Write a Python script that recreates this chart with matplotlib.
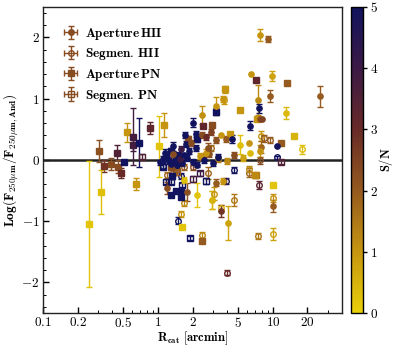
import numpy as np
import matplotlib
matplotlib.use("Agg")
import matplotlib.pyplot as plt
from matplotlib.colors import LinearSegmentedColormap, Normalize
from matplotlib.ticker import FixedLocator, FixedFormatter, MultipleLocator, LogLocator, NullFormatter

plt.rcParams['mathtext.fontset'] = 'cm'

# ---------------- data ----------------
# Aperture HII (filled circles)
ap_hii_r = [7.76, 8.98, 6.48, 9.85, 25.6, 9.36, 7.36, 3.7, 3.17, 13.1, 2.4, 2.02, 7.6, 7.75, 8.1,
            6.36, 6.23, 5.2, 7.87, 10.8, 6.28, 7.76, 3.57, 3.87, 3.17, 4.42,
            1.72, 2.14, 2.43, 2.87, 2.6, 1.58, 1.74, 1.93, 1.86, 2.13,
            1.1, 1.2, 1.25, 1.4, 1.5, 1.35, 1.62, 1.8, 2.0, 2.3, 2.5, 2.8, 3.0, 1.15, 1.45,
            1.05, 1.3, 1.55, 1.7, 2.2, 2.6, 3.3, 4.0, 4.6, 5.5,
            1.2, 1.8, 2.17, 2.97, 3.55, 4.07, 3.7, 3.17, 1.67, 10.0, 2.93, 1.35, 2.7]
ap_hii_y = [2.04, 1.97, 1.40, 1.37, 1.04, 1.04, 0.98, 0.99, 0.88, 0.77, 0.73, 0.61, 0.84, 0.66, 0.66,
            0.56, 0.27, 0.25, 0.21, 0.22, 0.11, 0.15, 0.41, 0.34, 0.33, 0.34,
            0.41, 0.42, 0.41, 0.45, 0.37, 0.17, 0.26, 0.27, 0.14, 0.19,
            0.02, 0.05, -0.02, 0.0, 0.08, 0.10, -0.05, 0.03, -0.03, 0.06, 0.0, 0.10, -0.05, 0.12, -0.08,
            -0.04, -0.06, 0.02, 0.08, -0.08, 0.12, 0.05, -0.02, 0.08, 0.03,
            -0.46, -0.52, -0.57, -0.66, -0.84, -1.03, -0.34, -0.37, -0.33, -0.75, -0.66, 0.22, 0.2]
ap_hii_e = [0.1, 0.05, 0.0, 0.08, 0.17, 0.1, 0.25, 0.05, 0.15, 0.1, 0.15, 0.07, 0.07, 0.0, 0.0,
            0.07, 0.0, 0.15, 0.1, 0.0, 0.0, 0.1, 0.0, 0.05, 0.05, 0.07,
            0.05, 0.05, 0.05, 0.05, 0.05, 0.05, 0.05, 0.05, 0.05, 0.05,
            0.05, 0.05, 0.05, 0.05, 0.05, 0.05, 0.05, 0.05, 0.05, 0.05, 0.05, 0.05, 0.05, 0.05, 0.05,
            0.04, 0.04, 0.04, 0.04, 0.04, 0.06, 0.05, 0.05, 0.05, 0.05,
            0.1, 0.15, 0.2, 0.15, 0.1, 0.27, 0.05, 0.05, 0.05, 0.1, 0.15, 0.08, 0.08]
ap_hii_sn = [1.0, 2.0, 1.0, 0.8, 2.0, 2.0, 1.2, 1.0, 1.0, 0.4, 1.1, 5, 5, 2.3, 2.5,
             5, 1.0, 0.3, 1.8, 5, 0.4, 1.0, 1.0, 2.0, 2.2, 5,
             5, 5, 2.3, 2.5, 3.0, 4.0, 5, 2.3, 5, 5,
             5, 5, 5, 5, 5, 2.3, 5, 5, 5, 1.0, 5, 2.2, 5, 5, 5,
             5, 5, 4.0, 5, 5, 1.0, 5, 1.2, 2.3, 0.8,
             2.3, 2.2, 0.2, 0.3, 2.8, 0.8, 1.0, 2.0, 0.3, 2.0, 0.5, 5, 2.2]

# Segmen. HII (open circles)
sg_hii_r = [1.59, 1.5, 2.43, 4.0, 7.36, 10.0, 10.0, 7.55, 6.15, 4.56, 3.1, 3.55, 2.74, 1.69, 1.34,
            1.21, 1.11, 1.69, 1.58, 3.74, 7.87, 8.4, 9.5, 18.1, 10.8, 7.76, 6.15, 4.55, 3.9,
            2.4, 2.0, 1.45, 3.3, 2.9]
sg_hii_y = [-0.88, -0.99, -1.23, -1.84, -1.24, -1.21, -0.62, -0.41, -0.21, -0.65, -0.55, -0.79, -0.21, -0.70, -0.21,
            -0.24, -0.10, -0.11, -0.27, 0.97, 0.39, 0.35, 0.33, 0.17, 0.04, -0.01, -0.15, -0.16, -0.34,
            0.05, -0.12, -0.15, 0.02, 0.20]
sg_hii_e = [0.05, 0.05, 0.05, 0.04, 0.05, 0.1, 0.07, 0.07, 0.07, 0.1, 0.1, 0.05, 0.1, 0.05, 0.05,
            0.05, 0.05, 0.05, 0.05, 0.05, 0.08, 0.05, 0.05, 0.08, 0.03, 0.05, 0.05, 0.05, 0.05,
            0.05, 0.05, 0.05, 0.05, 0.05]
sg_hii_sn = [1.0, 5, 1.2, 3.0, 1.5, 0.8, 1.0, 3.3, 1.8, 1.5, 1.0, 0.5, 1.8, 1.2, 2.0,
             1.8, 5, 2.0, 5, 1.0, 1.0, 2.0, 2.0, 0.3, 5, 2.3, 1.2, 5, 4.5,
             2.0, 2.3, 2.0, 1.5, 1.8]

# Aperture PN (filled squares)
ap_pn_r = [0.307, 0.34, 0.39, 0.44, 0.45, 0.48, 0.51, 0.54, 0.61, 0.61, 0.69, 0.86, 1.03, 1.12,
           0.25, 0.317, 0.64, 1.61, 2.43, 10.0, 7.17, 13.2, 3.82, 5.14, 3.17, 2.48, 2.97, 7.27,
           4.22, 11.7, 15.3, 7.03, 1.3, 1.84, 2.2, 1.32, 1.3, 1.43, 1.58, 1.58, 1.3]
ap_pn_y = [0.147, -0.10, -0.07, 0.12, -0.11, -0.22, -0.04, 0.45, 0.38, 0.24, 0.28, 0.52, 0.22, 0.57,
           -1.05, -0.53, -0.39, -1.09, -1.33, -0.41, 1.30, 1.26, 1.15, 0.82, 0.79, 0.56, 0.57, 0.66,
           0.43, 0.27, 0.39, -0.24, 0.14, 0.34, 0.34, -0.27, -0.57, -0.50, -0.52, -0.60, -0.11]
ap_pn_e = [0.18, 0.1, 0.1, 0.13, 0.1, 0.08, 0.03, 0.16, 0.46, 0.1, 0.4, 0.1, 0.5, 0.2,
           1.03, 0.36, 0.1, 0.0, 0.0, 0.0, 0.0, 0.0, 0.06, 0.0, 0.05, 0.0, 0.0, 0.0,
           0.0, 0.0, 0.0, 0.0, 0.05, 0.05, 0.05, 0.05, 0.0, 0.0, 0.0, 0.0, 0.05]
ap_pn_sn = [2.2, 2.8, 2.3, 3.5, 2.3, 3.0, 5, 1.0, 3.8, 3.8, 5, 3.2, 0.2, 1.0,
            0.2, 0.3, 1.0, 0.2, 2.0, 0.2, 3.2, 2.0, 1.0, 1.0, 5, 3.2, 2.3, 1.0,
            1.0, 2.0, 0.5, 1.2, 5, 2.3, 5, 5, 5, 5, 5, 5, 2.3]

# Segmen. PN (open squares)
sg_pn_r = [0.73, 1.9, 2.03, 2.6, 1.17, 1.3, 1.63, 1.1, 7.1, 11.7, 1.45, 2.3]
sg_pn_y = [0.05, -1.28, -0.31, -0.34, -0.36, -0.36, -0.41, -0.11, -0.25, -0.03, -0.20, -0.22]
sg_pn_e = [0.04, 0.03, 0.05, 0.05, 0.04, 0.04, 0.04, 0.04, 0.04, 0.03, 0.04, 0.04]
sg_pn_sn = [3.5, 5, 3.8, 5, 5, 5, 5, 5, 1.5, 3.5, 2.0, 4.0]

legend_labels = [r'$\mathbf{Aperture\,HII}$', r'$\mathbf{Segmen.\,HII}$',
                 r'$\mathbf{Aperture\,PN}$', r'$\mathbf{Segmen.\,PN}$']
xtick_vals = [0.1, 0.2, 0.5, 1, 2, 5, 10, 20]
xtick_labels = ['0.1', '0.2', '0.5', '1', '2', '5', '10', '20']
ytick_vals = [-2, -1, 0, 1, 2]
cbar_ticks = [0, 1, 2, 3, 4, 5]

# ---------------- style ----------------
cmap = LinearSegmentedColormap.from_list(
    'sn', [(0.0, '#e8d00a'), (0.2, '#c69510'), (0.4, '#955a1f'),
           (0.6, '#682a27'), (0.8, '#3b1a45'), (1.0, '#12135e')])
norm = Normalize(vmin=0, vmax=5)

fig = plt.figure(figsize=(3.95, 3.46), dpi=100)
ax = fig.add_axes([0.109, 0.0954, 0.757, 0.885])
cax = fig.add_axes([0.889, 0.0954, 0.030, 0.885])

def draw(rs, ys, es, sns, marker, filled, ms):
    for r, y, e, s in zip(rs, ys, es, sns):
        c = cmap(norm(min(s, 5)))
        ax.errorbar(r, y, yerr=e if e > 0 else None, fmt=marker, color=c, ecolor=c,
                    mfc=c if filled else 'none', mec=c, ms=ms, mew=1.0,
                    elinewidth=1.0, capsize=2.2, capthick=1.0, zorder=3)

draw(sg_hii_r, sg_hii_y, sg_hii_e, sg_hii_sn, 'o', False, 4.0)
draw(sg_pn_r, sg_pn_y, sg_pn_e, sg_pn_sn, 's', False, 4.0)
draw(ap_pn_r, ap_pn_y, ap_pn_e, ap_pn_sn, 's', True, 4.3)
draw(ap_hii_r, ap_hii_y, ap_hii_e, ap_hii_sn, 'o', True, 3.8)

ax.axhline(0, color='#222222', lw=1.8, zorder=2)

ax.set_xscale('log')
ax.set_xlim(0.1, 40)
ax.set_ylim(-2.5, 2.5)
ax.xaxis.set_major_locator(FixedLocator(xtick_vals))
ax.xaxis.set_major_formatter(FixedFormatter([r'$\mathbf{%s}$' % t for t in xtick_labels]))
ax.xaxis.set_minor_locator(LogLocator(base=10, subs=np.arange(2, 10), numticks=20))
ax.xaxis.set_minor_formatter(NullFormatter())
ax.yaxis.set_major_locator(FixedLocator(ytick_vals))
ax.yaxis.set_major_formatter(FixedFormatter([r'$\mathbf{%d}$' % v for v in ytick_vals]))
ax.yaxis.set_minor_locator(MultipleLocator(0.2))
ax.tick_params(which='both', direction='in', top=False, right=False, labelsize=9.5)
ax.tick_params(which='major', length=4, width=1, pad=2.5)
ax.tick_params(which='minor', length=2, width=0.7)
for sp in ax.spines.values():
    sp.set_linewidth(1.0)
    sp.set_color('#222222')

ax.set_xlabel(r'$\mathbf{R_{cat}\ [arcmin]}$', fontsize=9, labelpad=-1)
ax.set_ylabel(r'$\mathbf{Log(F_{250\mu m}/F_{250\mu m,And})}$', fontsize=9.5, labelpad=0)

# legend proxies
lc = cmap(norm(2.3))
handles = []
for mk, filled in [('o', True), ('o', False), ('s', True), ('s', False)]:
    h = ax.errorbar([np.nan], [np.nan], xerr=[0.1], yerr=[0.1], fmt=mk, color=lc, ecolor=lc,
                    mfc=lc if filled else 'none', mec=lc, ms=4, elinewidth=1, capsize=2)
    handles.append(h)
ax.legend(handles, legend_labels, loc='upper left', frameon=False, fontsize=9.5,
          handlelength=0.9, handletextpad=0.6, labelspacing=0.35, borderaxespad=0.0,
          bbox_to_anchor=(0.055, 0.955))

sm = plt.cm.ScalarMappable(cmap=cmap, norm=norm)
cb = fig.colorbar(sm, cax=cax, ticks=cbar_ticks)
cb.ax.set_yticklabels([r'$\mathbf{%d}$' % t for t in cbar_ticks])
cb.ax.tick_params(labelsize=9.5, length=3, width=1, direction='out', pad=2)
cb.set_label(r'$\mathbf{S/N}$', fontsize=9, labelpad=-1)
cb.outline.set_linewidth(1.0)

fig.savefig('out.png', dpi=100)
